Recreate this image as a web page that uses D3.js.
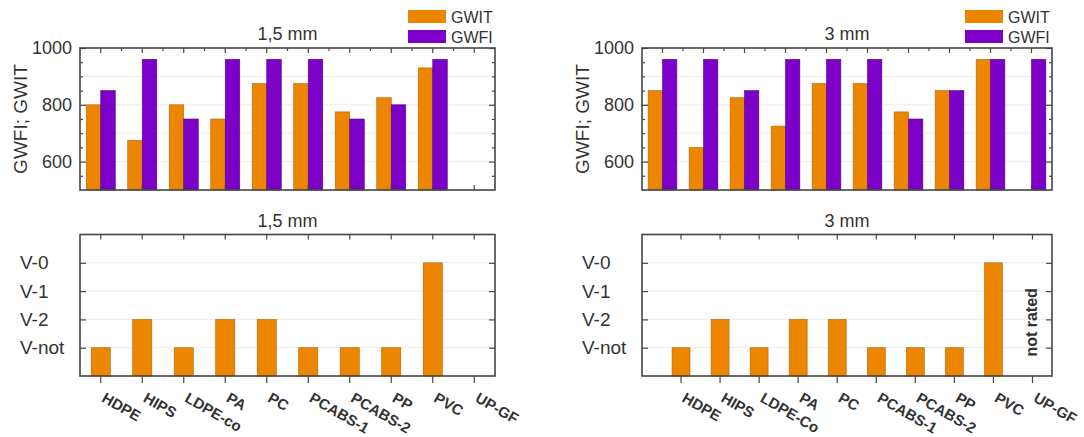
<!DOCTYPE html>
<html><head><meta charset="utf-8">
<script src="https://cdn.jsdelivr.net/npm/d3@7"></script>
<style>
body{margin:0;background:#fff}
text{font-family:"Liberation Sans",Arial,Helvetica,sans-serif;fill:#333}
</style>
</head><body>
<svg id="c" width="1084" height="437"></svg>
<script>
// ---------- data ----------
const categories15 = ["HDPE","HIPS","LDPE-co","PA","PC","PCABS-1","PCABS-2","PP","PVC","UP-GF"];
const categories3  = ["HDPE","HIPS","LDPE-Co","PA","PC","PCABS-1","PCABS-2","PP","PVC","UP-GF"];
const seriesNames = ["GWIT","GWFI"];
const gwit15 = [800,675,800,750,875,875,775,825,930,null];
const gwfi15 = [850,960,750,960,960,960,750,800,960,null];
const gwit3  = [850,650,825,725,875,875,775,850,960,null];
const gwfi3  = [960,960,850,960,960,960,750,850,960,960];
const gwTicks = [600,800,1000];
const gwDomain = [500,1000];
const ratingLevels = ["V-not","V-2","V-1","V-0"];
const ul15 = ["V-not","V-2","V-not","V-2","V-2","V-not","V-not","V-not","V-0",null];
const ul3  = ["V-not","V-2","V-not","V-2","V-2","V-not","V-not","V-not","V-0","not rated"];
const titles = ["1,5 mm","3 mm"];
const yTitle = "GWFI; GWIT";

// ---------- style ----------
const ORANGE = "#ec8500", ORANGE_S = "#b86500";
const PURPLE = "#7d00c8", PURPLE_S = "#55008a";
const FRAME = "#454545";
const colors = [ORANGE, PURPLE], strokes = [ORANGE_S, PURPLE_S];

const svg = d3.select("#c");

function styleAxis(g){
  g.select(".domain").remove();
  g.selectAll(".tick line").attr("stroke", FRAME).attr("stroke-width", 1.2);
  g.selectAll(".tick text").attr("font-size", 18).attr("fill", "#333")
    .attr("font-family", '"Liberation Sans",Arial,sans-serif');
}

function drawTop(x0, x1, cats, gwit, gwfi, title){
  const y0 = 48, y1 = 190;
  const g = svg.append("g");
  const x = d3.scaleBand().domain(cats).range([x0, x1]);
  const y = d3.scaleLinear().domain(gwDomain).range([y1, y0]);
  const minor = d3.range(550, 1000, 50).filter(v => !gwTicks.includes(v));

  g.selectAll(".grid").data([600,700,800,900]).join("line")
    .attr("x1", x0).attr("x2", x1).attr("y1", d => y(d)).attr("y2", d => y(d))
    .attr("stroke", "#ececec").attr("stroke-width", 1);

  const bw = x.bandwidth() * 0.35;
  [gwit, gwfi].forEach((vals, si) => {
    g.selectAll(".b" + si).data(cats.map((c, i) => ({c, v: vals[i]})).filter(d => d.v != null))
      .join("rect")
      .attr("x", d => x(d.c) + x.bandwidth() / 2 - bw + si * bw)
      .attr("width", bw)
      .attr("y", d => y(d.v))
      .attr("height", d => y1 - y(d.v))
      .attr("fill", colors[si]).attr("stroke", strokes[si]).attr("stroke-width", 0.6);
  });

  g.append("g").attr("transform", `translate(${x0},0)`)
    .call(d3.axisLeft(y).tickValues(gwTicks).tickSize(-6).tickPadding(8).tickFormat(d3.format("d"))).call(styleAxis);
  g.append("g").attr("transform", `translate(${x0},0)`)
    .call(d3.axisLeft(y).tickValues(minor).tickSize(-3).tickFormat("")).call(styleAxis);
  g.append("g").attr("transform", `translate(${x1},0)`)
    .call(d3.axisRight(y).tickValues(gwTicks).tickSize(-6).tickFormat("")).call(styleAxis);
  g.append("g").attr("transform", `translate(${x1},0)`)
    .call(d3.axisRight(y).tickValues(minor).tickSize(-3).tickFormat("")).call(styleAxis);
  g.append("g").attr("transform", `translate(0,${y0})`)
    .call(d3.axisTop(x).tickSize(-5).tickFormat("")).call(styleAxis);
  g.append("g").attr("transform", `translate(0,${y0})`)
    .selectAll("line").data(cats.slice(1)).join("line")
    .attr("x1", d => x(d)).attr("x2", d => x(d)).attr("y1", 0).attr("y2", 3)
    .attr("stroke", FRAME).attr("stroke-width", 1.2);
  g.append("g").attr("transform", `translate(0,${y1})`)
    .call(d3.axisBottom(x).tickSize(-5).tickFormat("")).call(styleAxis);

  g.append("rect").attr("x", x0).attr("y", y0).attr("width", x1 - x0).attr("height", y1 - y0)
    .attr("fill", "none").attr("stroke", FRAME).attr("stroke-width", 1.6);

  g.append("text").attr("x", (x0 + x1) / 2).attr("y", 40).attr("text-anchor", "middle")
    .attr("font-size", 18).text(title);
  g.append("text").attr("transform", `translate(${x0 - 53},${(y0 + y1) / 2}) rotate(-90)`)
    .attr("text-anchor", "middle").attr("font-size", 19).text(yTitle);

  seriesNames.forEach((s, i) => {
    g.append("rect").attr("x", x1 - 87).attr("y", 10 + i * 20).attr("width", 38).attr("height", 13)
      .attr("fill", colors[i]);
    g.append("text").attr("x", x1 - 44).attr("y", 23 + i * 20).attr("font-size", 16).text(s);
  });
}

function drawBottom(x0, x1, bx0, cats, ratings, title){
  const y0 = 234.5, y1 = 376;
  const g = svg.append("g");
  const x = d3.scaleBand().domain(cats).range([bx0, x1]);
  const y = d3.scaleLinear().domain([0, ratingLevels.length + 1]).range([y1, y0]);
  const lvl = r => ratingLevels.indexOf(r) + 1;

  g.selectAll(".grid").data(ratingLevels).join("line")
    .attr("x1", x0).attr("x2", x1).attr("y1", d => y(lvl(d))).attr("y2", d => y(lvl(d)))
    .attr("stroke", "#ececec").attr("stroke-width", 1);

  const bw = x.bandwidth() * 0.46;
  const data = cats.map((c, i) => ({c, r: ratings[i]}));
  g.selectAll(".bar").data(data.filter(d => ratingLevels.includes(d.r))).join("rect")
    .attr("x", d => x(d.c) + x.bandwidth() / 2 - bw / 2).attr("width", bw)
    .attr("y", d => y(lvl(d.r))).attr("height", d => y1 - y(lvl(d.r)))
    .attr("fill", ORANGE).attr("stroke", ORANGE_S).attr("stroke-width", 0.6);

  data.filter(d => d.r && !ratingLevels.includes(d.r)).forEach(d => {
    g.append("text")
      .attr("transform", `translate(${x(d.c) + x.bandwidth() / 2 + 5},${y(2) + 3}) rotate(-90)`)
      .attr("text-anchor", "middle").attr("font-size", 16).attr("font-weight", "bold").text(d.r);
  });

  const lv = ratingLevels.map(lvl);
  g.append("g").attr("transform", `translate(${x0},0)`)
    .call(d3.axisLeft(y).tickValues(lv).tickSize(-6).tickFormat("")).call(styleAxis);
  g.append("g").attr("transform", `translate(${x1},0)`)
    .call(d3.axisRight(y).tickValues(lv).tickSize(-6).tickFormat("")).call(styleAxis);
  g.selectAll(".yl").data(ratingLevels).join("text")
    .attr("x", x0 - 60).attr("y", d => y(lvl(d))).attr("dy", "0.35em")
    .attr("font-size", 19).text(d => d);

  g.append("g").attr("transform", `translate(0,${y0})`)
    .call(d3.axisTop(x).tickSize(-5).tickFormat("")).call(styleAxis);
  g.append("g").attr("transform", `translate(0,${y1})`)
    .call(d3.axisBottom(x).tickSize(7).tickFormat("")).call(styleAxis);

  g.selectAll(".xl").data(cats).join("text")
    .attr("transform", d => `translate(${x(d) + x.bandwidth() / 2},401) rotate(30)`)
    .attr("font-size", 15).attr("font-weight", "bold").text(d => d);

  g.append("rect").attr("x", x0).attr("y", y0).attr("width", x1 - x0).attr("height", y1 - y0)
    .attr("fill", "none").attr("stroke", FRAME).attr("stroke-width", 1.6);

  g.append("text").attr("x", (x0 + x1) / 2).attr("y", 227).attr("text-anchor", "middle")
    .attr("font-size", 18).text(title);
}

drawTop(80, 495, categories15, gwit15, gwfi15, titles[0]);
drawTop(642, 1052, categories3, gwit3, gwfi3, titles[1]);
drawBottom(80, 495, 80, categories15, ul15, titles[0]);
drawBottom(642, 1052, 661.5, categories3, ul3, titles[1]);
</script>
</body></html>
